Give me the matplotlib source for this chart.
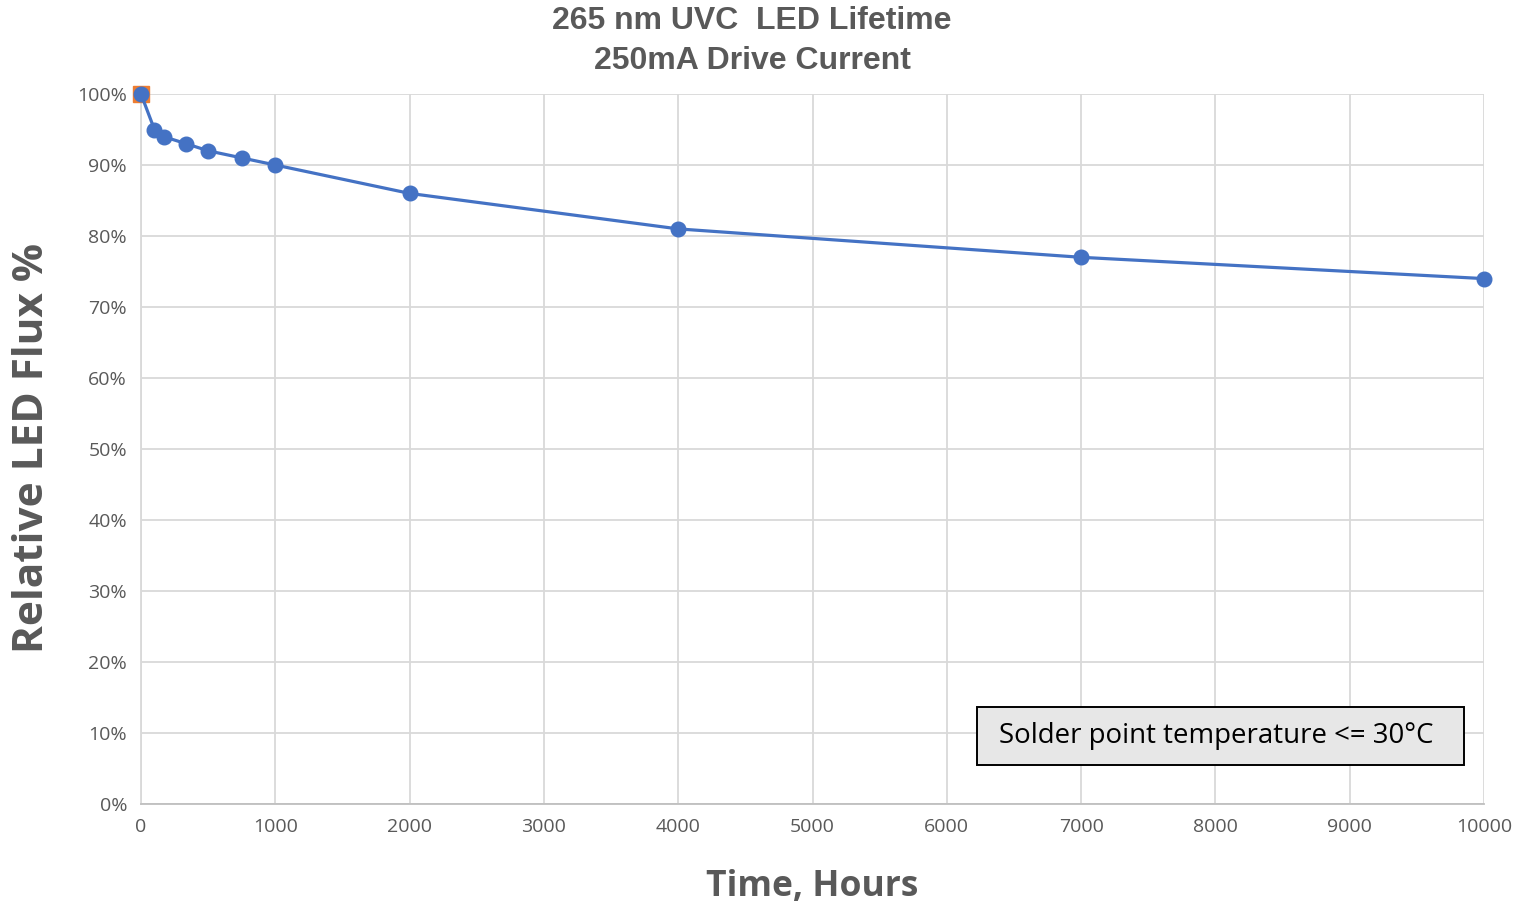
import matplotlib
matplotlib.use("Agg")
import matplotlib.pyplot as plt
from matplotlib.patches import Rectangle
from matplotlib.ticker import PercentFormatter

# data
hours = [0, 100, 168, 336, 500, 750, 1000, 2000, 4000, 7000, 10000]
flux = [1.00, 0.95, 0.94, 0.93, 0.92, 0.91, 0.90, 0.86, 0.81, 0.77, 0.74]
start_hours = [0]
start_flux = [1.00]
x_ticks = list(range(0, 10001, 1000))
y_ticks = [i / 10 for i in range(11)]

title_txt = "265 nm UVC  LED Lifetime\n250mA Drive Current"
note_txt = "Solder point temperature <= 30°C"

grey = "#595959"
blue = "#4472C4"
orange = "#ED7D31"

fig = plt.figure(figsize=(15.19, 9.07), dpi=100)
ax = fig.add_axes([141 / 1519, 1 - 804 / 907, (1484 - 141) / 1519, (804 - 94) / 907])

ax.plot(start_hours, start_flux, marker="s", ms=12, color=orange, ls="none",
        zorder=3, clip_on=False)
ax.plot(hours, flux, color=blue, lw=2.3, marker="o", ms=10.5, zorder=4, clip_on=False)

ax.set_xlim(0, 10000)
ax.set_ylim(0, 1)
ax.set_xticks(x_ticks)
ax.set_yticks(y_ticks)
ax.yaxis.set_major_formatter(PercentFormatter(1.0, decimals=0))
ax.grid(True, color="#d9d9d9", lw=1.3)
ax.set_axisbelow(True)
for s in ["top", "right"]:
    ax.spines[s].set_visible(False)
ax.spines["left"].set_color("#d9d9d9")
ax.spines["bottom"].set_color("#bfbfbf")
ax.spines["left"].set_linewidth(1.3)
ax.spines["bottom"].set_linewidth(1.3)
ax.tick_params(length=0, labelsize=14, labelcolor=grey, pad=10)
for lab in ax.get_xticklabels() + ax.get_yticklabels():
    lab.set_family("Open Sans")

fig.text(752 / 1519, 1 - 41 / 907, title_txt, ha="center", va="center",
         fontsize=23, fontweight="bold", color=grey, family="Liberation Sans",
         linespacing=1.42)
fig.text(33 / 1519, 1 - 448 / 907, "Relative LED Flux %", rotation=90,
         ha="center", va="center", fontsize=30.5, fontweight="bold", color=grey,
         family="Open Sans")
fig.text(812 / 1519, 1 - 887 / 907, "Time, Hours", ha="center", va="center",
         fontsize=25.5, fontweight="bold", color=grey, family="Open Sans")

# note box
ax.add_patch(Rectangle((0.6225, 0.0549), 0.3626, 0.0817, transform=ax.transAxes,
                       fc="#e7e7e7", ec="black", lw=1.4, zorder=5))
ax.text(0.8005, 0.0958, note_txt, transform=ax.transAxes, ha="center", va="center",
        fontsize=19.9, color="black", family="Open Sans", zorder=6)

fig.savefig("out.png", dpi=100)
